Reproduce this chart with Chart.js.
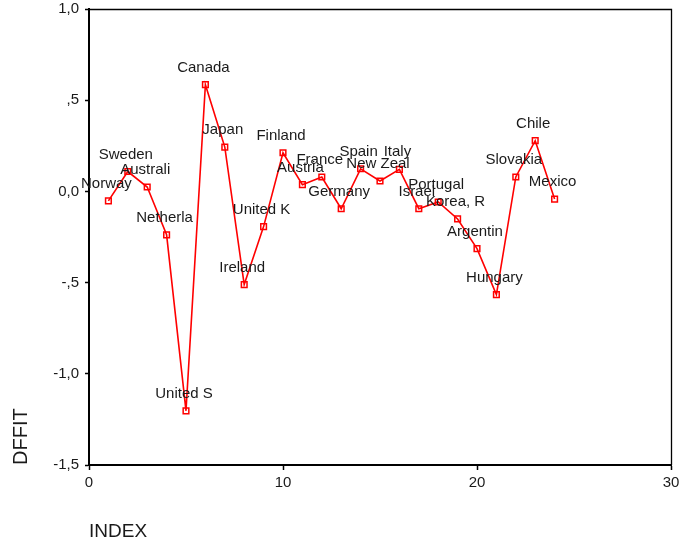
<!DOCTYPE html>
<html>
<head>
<meta charset="utf-8">
<script src="https://cdn.jsdelivr.net/npm/chart.js@4/dist/chart.umd.min.js"></script>
<style>
html,body{margin:0;padding:0;background:#fff;}
#wrap{width:680px;height:549px;position:relative;}
</style>
</head>
<body>
<div id="wrap"><canvas id="c" width="680" height="549"></canvas></div>
<script>
const countries = ["Norway","Sweden","Australi","Netherla","United S","Canada","Japan","Ireland","United K","Finland","Austria","France","Germany","Spain","New Zeal","Italy","Israel","Portugal","Korea, R","Argentin","Hungary","Slovakia","Chile","Mexico"];
const indexValues = [1,2,3,4,5,6,7,8,9,10,11,12,13,14,15,16,17,18,19,20,21,22,23,24];
const dffitValues = [-0.052,0.109,0.024,-0.238,-1.203,0.585,0.243,-0.511,-0.193,0.212,0.037,0.079,-0.095,0.124,0.057,0.121,-0.095,-0.058,-0.151,-0.314,-0.566,0.079,0.278,-0.042];
const yTickLabels = {"1":"1,0","0.5":",5","0":"0,0","-0.5":"-,5","-1":"-1,0","-1.5":"-1,5"};
const xTickValues = [0,10,20,30];

const FONT = "'Liberation Sans', Arial, sans-serif";
const TXT = "#1a1a1a";

const pointLabels = {
  id: 'pointLabels',
  afterDatasetsDraw(chart) {
    const ctx = chart.ctx;
    const meta = chart.getDatasetMeta(0);
    ctx.save();
    ctx.font = "15px " + FONT;
    ctx.fillStyle = TXT;
    ctx.textAlign = 'center';
    ctx.textBaseline = 'middle';
    meta.data.forEach((pt, i) => {
      ctx.fillText(countries[i], pt.x - 2, pt.y - 17);
    });
    ctx.restore();
  }
};

const frame = {
  id: 'frame',
  afterDraw(chart) {
    const a = chart.chartArea;
    const ctx = chart.ctx;
    ctx.save();
    ctx.strokeStyle = '#000';
    ctx.lineWidth = 1.3;
    ctx.beginPath();
    ctx.moveTo(a.left, a.top + 0.5);
    ctx.lineTo(a.right + 0.5, a.top + 0.5);
    ctx.lineTo(a.right + 0.5, a.bottom);
    ctx.stroke();
    ctx.restore();
  }
};

new Chart(document.getElementById('c'), {
  type: 'line',
  data: {
    datasets: [{
      data: indexValues.map((x, i) => ({x: x, y: dffitValues[i]})),
      borderColor: '#ff0000',
      borderWidth: 1.6,
      pointStyle: 'rect',
      pointRadius: 4,
      pointBorderWidth: 1.5,
      pointBorderColor: '#ff0000',
      pointBackgroundColor: 'rgba(255,255,255,0)',
      tension: 0,
      fill: false
    }]
  },
  options: {
    responsive: false,
    animation: false,
    devicePixelRatio: 1,
    layout: { padding: { top: 9, right: 9, left: 0, bottom: 0 } },
    plugins: { legend: { display: false }, tooltip: { enabled: false } },
    scales: {
      x: {
        type: 'linear',
        min: 0, max: 30,
        afterBuildTicks(s) { s.ticks = xTickValues.map(v => ({value: v})); },
        afterFit(s) { s.height = 84; s.paddingLeft = 0; s.paddingRight = 0; },
        grid: { drawOnChartArea: false, drawTicks: true, tickLength: 5, color: '#000', tickWidth: 1.5 },
        border: { display: true, color: '#000', width: 2 },
        ticks: { color: TXT, font: { family: FONT, size: 15 }, padding: 4, maxRotation: 0 },
        title: { display: true, text: 'INDEX', align: 'start', color: TXT, font: { family: FONT, size: 19 }, padding: { top: 0, bottom: 5.5 } }
      },
      y: {
        type: 'linear',
        min: -1.5, max: 1.0,
        afterBuildTicks(s) { s.ticks = Object.keys(yTickLabels).map(k => ({value: parseFloat(k)})); },
        afterFit(s) { s.width = 89; s.paddingTop = 0; s.paddingBottom = 0; },
        grid: { drawOnChartArea: false, drawTicks: true, tickLength: 4, color: '#000', tickWidth: 1.5 },
        border: { display: true, color: '#000', width: 2 },
        ticks: {
          color: TXT, font: { family: FONT, size: 15 }, padding: 6,
          callback: (v) => yTickLabels[String(v)] !== undefined ? yTickLabels[String(v)] : ''
        },
        title: { display: true, text: 'DFFIT', align: 'start', color: TXT, font: { family: FONT, size: 20 }, padding: { top: 9.5, bottom: 0 } }
      }
    }
  },
  plugins: [pointLabels, frame]
});
</script>
</body>
</html>
